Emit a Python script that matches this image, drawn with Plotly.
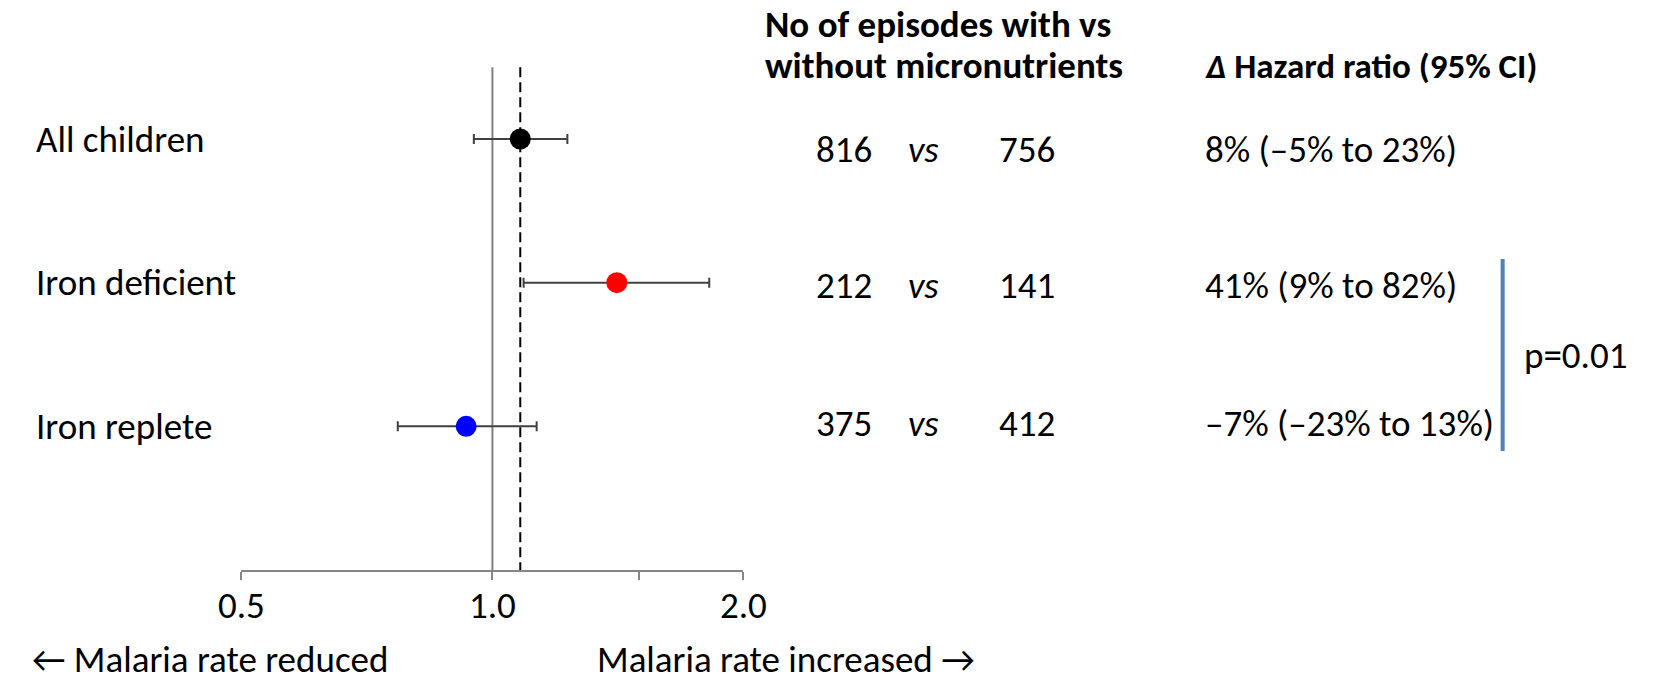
import plotly.graph_objects as go

# ---- data -------------------------------------------------------------
groups = ["All children", "Iron deficient", "Iron replete"]
pct_change = [8, 41, -7]          # change in hazard ratio, %
pct_lo = [-5, 9, -23]             # lower 95% CI, %
pct_hi = [23, 82, 13]             # upper 95% CI, %
episodes_with = [816, 212, 375]
episodes_without = [756, 141, 412]
dot_colors = ["#000000", "#ff0000", "#0000ff"]
x_tick_vals = [0.5, 1.0, 1.5, 2.0]
x_tick_text = ["0.5", "1.0", "", "2.0"]
p_interaction = "p=0.01"

hr = [1 + p / 100 for p in pct_change]
hr_lo = [1 + p / 100 for p in pct_lo]
hr_hi = [1 + p / 100 for p in pct_hi]
rows = [1, 2, 3]

W, H = 1653, 681
FONT = "Carlito, Calibri, Lato, sans-serif"
FS = 37


def px(x):
    return x / W


def py(y):
    return 1 - y / H


def pct_txt(v):
    return ("\u2013" if v < 0 else "") + f"{abs(v)}%"


fig = go.Figure()

for i in range(len(groups)):
    fig.add_trace(go.Scatter(
        x=[hr[i]], y=[rows[i]], mode="markers",
        marker=dict(size=21, color=dot_colors[i]),
        error_x=dict(type="data", symmetric=False,
                     array=[hr_hi[i] - hr[i]], arrayminus=[hr[i] - hr_lo[i]],
                     color="#404040", thickness=2, width=5),
        cliponaxis=False, showlegend=False, hoverinfo="skip",
    ))

# reference line at HR = 1 and dashed line at the overall estimate
fig.add_shape(type="line", xref="x", yref="y", x0=1, x1=1, y0=0.5, y1=4,
              line=dict(color="#808080", width=2), layer="below")
fig.add_shape(type="line", xref="x", yref="y", x0=hr[0], x1=hr[0], y0=0.5, y1=4,
              line=dict(color="#000000", width=2, dash="10px,5px"), layer="below")

# bracket linking the two iron subgroups
fig.add_shape(type="line", xref="paper", yref="paper",
              x0=px(1522), x1=px(1522), y0=py(259), y1=py(451),
              line=dict(color="#4f81bd", width=4))

ann = []
txt_font = dict(family=FONT, size=FS, color="#000000")

# group labels
for i, g in enumerate(groups):
    ann.append(dict(text=g, xref="paper", yref="y", x=px(11), y=rows[i],
                    xanchor="left", yanchor="middle", showarrow=False, font=txt_font))

# column headers
ann.append(dict(text="<b>No of episodes with vs</b>",
                xref="paper", yref="paper", x=px(761), y=py(24),
                xanchor="left", yanchor="middle", showarrow=False, font=txt_font))
ann.append(dict(text="<b>without micronutrients</b>",
                xref="paper", yref="paper", x=px(761), y=py(66),
                xanchor="left", yanchor="middle", showarrow=False, font=txt_font))
ann.append(dict(text="<b><i>\u0394</i> Hazard ratio (95% CI)</b>",
                xref="paper", yref="paper", x=px(1214), y=py(66),
                xanchor="left", yanchor="middle", showarrow=False,
                font=dict(family=FONT, size=35, color="#000000")))

# per-row numbers
row_text_y = [149, 286, 423]
for i in range(len(groups)):
    yy = py(row_text_y[i])
    ann.append(dict(text=str(episodes_with[i]), xref="paper", yref="paper",
                    x=px(844), y=yy, xanchor="center", yanchor="middle",
                    showarrow=False, font=txt_font))
    ann.append(dict(text="<i>vs</i>", xref="paper", yref="paper",
                    x=px(926), y=yy, xanchor="center", yanchor="middle",
                    showarrow=False, font=txt_font))
    ann.append(dict(text=str(episodes_without[i]), xref="paper", yref="paper",
                    x=px(1033), y=yy, xanchor="center", yanchor="middle",
                    showarrow=False, font=txt_font))
    ann.append(dict(text=f"{pct_txt(pct_change[i])} ({pct_txt(pct_lo[i])} to {pct_txt(pct_hi[i])})",
                    xref="paper", yref="paper", x=px(1214), y=yy,
                    xanchor="left", yanchor="middle", showarrow=False, font=txt_font))

ann.append(dict(text=p_interaction, xref="paper", yref="paper", x=px(1652), y=py(356),
                xanchor="right", yanchor="middle", showarrow=False, font=txt_font))

# direction captions under the axis
ann.append(dict(text="\u2190 Malaria rate reduced", xref="paper", yref="paper",
                x=px(7), y=py(659), xanchor="left", yanchor="middle",
                showarrow=False, font=txt_font))
ann.append(dict(text="Malaria rate increased \u2192", xref="paper", yref="paper",
                x=px(588), y=py(659), xanchor="left", yanchor="middle",
                showarrow=False, font=txt_font))

# y: row 1 at 139 px, axis (y = 4) at 570 px
y_top = 1 - 139 / ((570 - 139) / 3)

fig.update_layout(
    width=W, height=H,
    margin=dict(l=0, r=0, t=0, b=0),
    paper_bgcolor="white", plot_bgcolor="white",
    annotations=ann,
    xaxis=dict(type="log", range=[-0.30103, 0.30103],
               domain=[px(224.7), px(741)],
               showline=True, linecolor="#868686", linewidth=2,
               ticks="outside", ticklen=8, tickwidth=2, tickcolor="#868686",
               tickvals=x_tick_vals, ticktext=x_tick_text,
               tickfont=txt_font, ticklabelstandoff=-6,
               showgrid=False, zeroline=False, fixedrange=True),
    yaxis=dict(range=[4, y_top], domain=[(H - 570) / H, 1],
               visible=False, showgrid=False, zeroline=False, fixedrange=True),
)

fig.write_html("out.html")
